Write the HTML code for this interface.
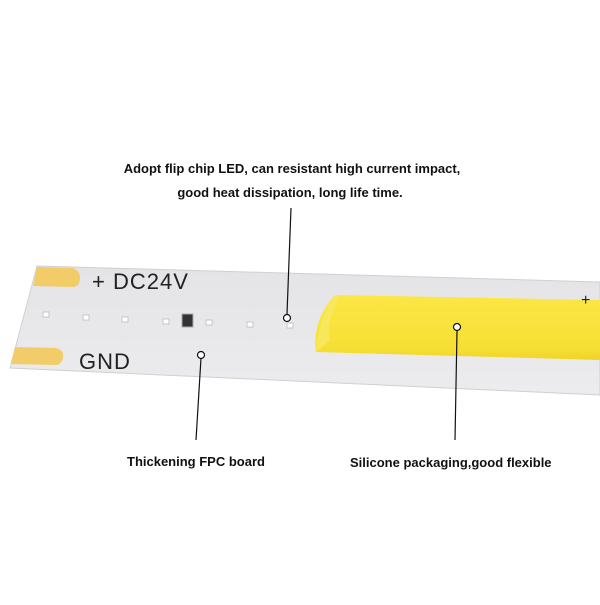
<!DOCTYPE html>
<html><head><style>
body{margin:0;width:600px;height:600px;background:#fff;overflow:hidden}
</style></head><body>
<svg width="600" height="600" viewBox="0 0 600 600" xmlns="http://www.w3.org/2000/svg" font-family="Liberation Sans, sans-serif">
<defs>
<linearGradient id="st" x1="0" y1="0" x2="0" y2="1"><stop offset="0" stop-color="#e4e4e6"/><stop offset="1" stop-color="#ececee"/></linearGradient>
<linearGradient id="ye" x1="0" y1="0" x2="0" y2="1"><stop offset="0" stop-color="#fbe646"/><stop offset="0.8" stop-color="#f7e035"/><stop offset="1" stop-color="#f0d42a"/></linearGradient>
</defs>
<polygon points="37,266 600,282 600,395 10,368" fill="url(#st)" stroke="#d0d0d4" stroke-width="1"/>
<path d="M37,267 L72,268 Q80,270 80,278 Q80,287 72,287 L33,286 Z" fill="#f3cc6a"/>
<path d="M15,347 L56,348 Q64,350 63,357 Q62,365 55,365 L11,364 Z" fill="#f3cc6a"/>
<path d="M335,295 L600,300 L600,360 L316,352 Q312,320 335,295 Z" fill="url(#ye)"/>
<path d="M335,295 Q318,320 316,352 L330,340 Q326,318 340,296 Z" fill="#f8ea6a" opacity="0.7"/>
<text x="92" y="289" font-size="22" fill="#222" letter-spacing="1">+ DC24V</text>
<text x="79" y="369" font-size="22" fill="#222" letter-spacing="1">GND</text>
<text x="581" y="305" font-size="16" fill="#222">+</text>
<g fill="#fff" stroke="#bbb" stroke-width="0.8">
<rect x="43" y="312" width="6" height="5"/><rect x="83" y="315" width="6" height="5"/><rect x="122" y="317" width="6" height="5"/><rect x="163" y="319" width="6" height="5"/><rect x="206" y="320" width="6" height="5"/><rect x="247" y="322" width="6" height="5"/><rect x="287" y="323" width="6" height="5"/>
</g>
<rect x="182" y="314" width="11" height="13" fill="#333" stroke="#aaa"/>
<g font-size="13" fill="#111" font-weight="bold">
<text x="292" y="173" text-anchor="middle">Adopt flip chip LED, can resistant high current impact,</text>
<text x="290" y="197" text-anchor="middle">good heat dissipation, long life time.</text>
<text x="127" y="466">Thickening FPC board</text>
<text x="350" y="467">Silicone packaging,good flexible</text>
</g>
<g stroke="#111" stroke-width="1.2" fill="#fff">
<line x1="291" y1="208" x2="287" y2="314"/><circle cx="287" cy="318" r="3.5"/>
<line x1="201" y1="358" x2="196" y2="440"/><circle cx="201" cy="355" r="3.5"/>
<line x1="457" y1="331" x2="455" y2="440"/><circle cx="457" cy="327" r="3.5"/>
</g>
</svg>
</body></html>
